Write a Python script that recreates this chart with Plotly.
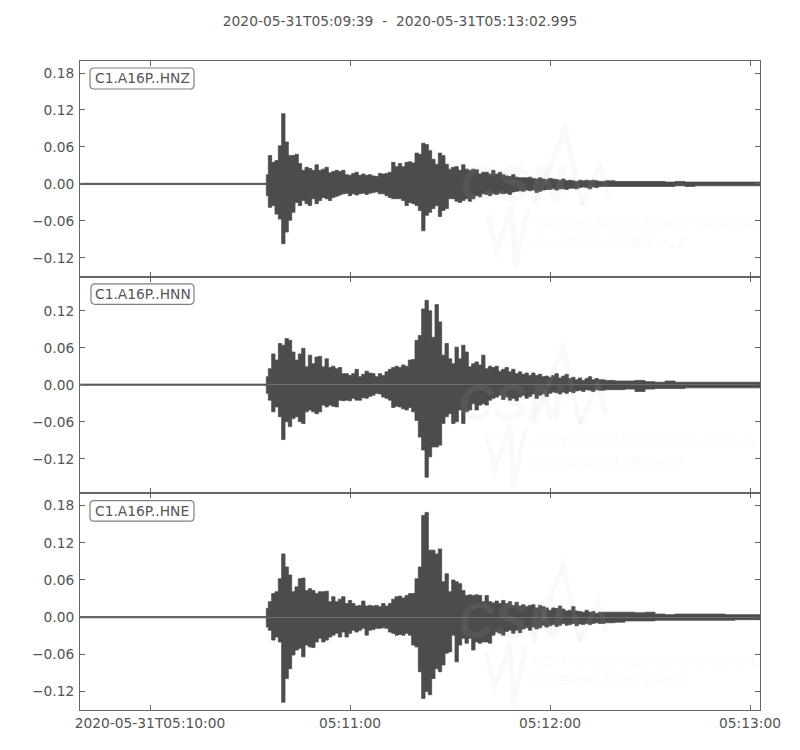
import pandas as pd
import plotly.graph_objects as go
from plotly.subplots import make_subplots

START = pd.Timestamp("2020-05-31T05:10:00")

title_text = "2020-05-31T05:09:39  -  2020-05-31T05:13:02.995"
channels = ["C1.A16P..HNZ", "C1.A16P..HNN", "C1.A16P..HNE"]

# seconds after 05:10:00
pre_times = [-21, 0, 20, 34.8]
pre_level = [1.0, 1.0, 1.0, 1.0]
fine_times = list(range(35, 136))
coarse_times = list(range(138, 184, 3))

# envelopes, in thousandths
z_up = [15,46,35,38,62,114,68,46,46,48,33,22,27,25,22,31,22,24,27,18,20,22,20,22,15,14,17,19,14,16,14,15,13,12,
        17,16,17,19,35,28,33,28,35,36,34,50,48,66,64,54,40,32,50,46,32,24,27,28,22,31,24,22,24,23,16,19,19,16,22,16,19,
        15,13,12,15,11,10,10,10,11,9,8,10,8,7,9,8,7,6,8,5,6,5,4,6,5,6,5,6,5,4,
        5,4,4,4,4,4,3,4,3,3,3,3,3,3,3,3]
z_lo = [19,38,35,49,57,97,78,59,46,30,35,27,32,35,24,32,27,22,24,27,22,20,18,16,15,19,16,18,16,15,17,15,14,13,
        16,16,19,22,24,24,24,27,35,30,32,35,43,76,51,46,40,35,53,43,40,24,24,28,30,27,24,28,24,19,21,16,17,19,16,17,15,
        16,15,17,13,12,11,12,10,11,10,14,12,10,9,9,8,10,8,8,9,7,7,8,6,5,6,8,5,6,4,
        4,4,4,4,4,4,4,3,4,3,3,3,3,3,3,3]
n_up = [13,26,50,40,67,64,75,72,53,40,50,59,29,48,34,45,46,29,42,28,30,26,28,18,18,15,18,25,13,17,
        22,19,18,13,18,15,21,25,28,30,28,32,30,40,41,72,80,123,137,120,77,130,102,48,67,42,34,61,42,64,
        53,29,34,37,32,48,26,30,28,30,22,
        25,28,21,25,18,21,17,19,15,19,15,17,13,14,12,15,18,11,14,17,10,12,8,11,7,10,13,8,10,8,
        7,6,6,7,5,4,6,4,4,4,4,4,4,4,4,4]
n_lo = [14,25,44,36,52,89,60,68,55,52,60,63,44,41,44,47,44,33,36,33,35,36,25,26,25,26,22,25,25,21,
        22,19,17,14,15,20,22,25,37,35,36,39,41,37,44,58,85,106,150,117,101,101,98,63,52,47,63,60,41,63,
        44,41,31,41,33,31,33,25,22,20,17,
        24,20,25,22,26,20,17,22,19,15,22,17,15,19,14,12,13,15,12,14,11,13,10,9,11,8,9,11,8,9,
        8,8,7,11,7,6,6,6,5,5,5,5,5,5,5,5]
e_up = [14,25,38,41,62,102,81,68,41,49,62,63,43,46,43,38,41,41,42,25,33,25,29,33,22,27,22,18,19,26,
        18,19,18,19,17,22,18,22,29,33,34,31,35,38,38,62,81,164,169,108,108,102,110,57,70,41,60,57,54,43,
        35,36,35,36,35,25,35,25,23,26,22,
        27,22,25,19,24,18,20,17,19,20,15,19,17,15,11,15,14,18,13,10,11,17,10,9,8,11,8,9,6,8,
        8,8,8,7,8,5,4,5,5,5,5,5,4,4,4,4]
e_lo = [16,21,37,32,40,137,99,83,61,53,50,64,45,48,49,40,34,40,37,32,29,26,32,24,32,26,21,24,21,18,
        29,21,20,18,18,17,18,24,26,29,28,29,26,29,45,48,88,131,120,125,99,83,88,77,58,56,29,72,45,34,
        42,34,53,40,42,40,40,42,29,24,26,
        29,23,21,26,21,25,19,17,21,16,19,17,13,16,14,12,15,13,10,13,12,10,14,11,12,10,12,10,9,10,
        9,8,6,6,6,5,5,5,5,5,5,5,5,4,4,4]

ticks_per_panel = [
    [-0.12, -0.06, 0.0, 0.06, 0.12, 0.18],
    [-0.12, -0.06, 0.0, 0.06, 0.12],
    [-0.12, -0.06, 0.0, 0.06, 0.12, 0.18],
]
x_tick_secs = [0, 60, 120, 180]
x_tick_text = ["2020-05-31T05:10:00", "05:11:00", "05:12:00", "05:13:00"]

INK = "#4c4c4c"
TEXT = "#555555"
FRAME = "#666666"
W, H = 800, 750
L, R, T, B = 80, 760, 60.5, 710
BOUNDS = [60.5, 277, 493, 710]
Y_RANGES = [(-0.1516, 0.1995), (-0.1760, 0.1743), (-0.1497, 0.2000)]
FS = 13.8


def when(sec):
    return START + pd.to_timedelta(sec, unit="s")


fig = make_subplots(rows=3, cols=1, shared_xaxes=False, vertical_spacing=0)

all_t = pre_times + fine_times + coarse_times
series = [(z_up, z_lo), (n_up, n_lo), (e_up, e_lo)]
for i, (up, lo) in enumerate(series):
    upper = [v / 1000 for v in pre_level + up]
    lower = [-v / 1000 for v in pre_level + lo]
    xs = [when(s) for s in all_t]
    for ys in (upper, lower):
        fig.add_trace(
            go.Scatter(
                x=xs, y=ys, mode="lines", fill="tozeroy", fillcolor=INK,
                line=dict(color=INK, width=0.8, shape="hvh"),
                hoverinfo="skip", showlegend=False,
            ),
            row=i + 1, col=1,
        )

    dom = [1 - (BOUNDS[i + 1] - T) / (B - T), 1 - (BOUNDS[i] - T) / (B - T)]
    fig.update_yaxes(
        row=i + 1, col=1, domain=dom, range=list(Y_RANGES[i]),
        tickmode="array", tickvals=ticks_per_panel[i],
        ticktext=[("\u2212" if v < 0 else "") + f"{abs(v):.2f}" for v in ticks_per_panel[i]],
        ticks="inside", ticklen=5, tickwidth=1, tickcolor=FRAME,
        showline=True, linecolor=FRAME, linewidth=1, mirror="ticks",
        showgrid=False, zeroline=False, ticklabelstandoff=2,
        tickfont=dict(family="DejaVu Sans", size=FS, color=TEXT),
    )
    fig.update_xaxes(
        row=i + 1, col=1, type="date",
        range=[when(-21), when(182.995)],
        tickmode="array", tickvals=[when(s) for s in x_tick_secs],
        ticktext=x_tick_text if i == 2 else ["", "", "", ""],
        ticks="inside", ticklen=5, tickwidth=1, tickcolor=FRAME,
        showline=True, linecolor=FRAME, linewidth=1, mirror="ticks",
        showgrid=False, zeroline=False,
        tickfont=dict(family="DejaVu Sans", size=FS, color=TEXT),
    )


def fx(px):
    return (px - L) / (R - L)


def fy(px, i):
    return 1 - (px - BOUNDS[i]) / (BOUNDS[i + 1] - BOUNDS[i])


def rounded_box(x0, x1, y0, y1, i, r=4):
    a = fx
    b = lambda v: fy(v, i)
    return (
        f"M {a(x0 + r)} {b(y0)} L {a(x1 - r)} {b(y0)} Q {a(x1)} {b(y0)} {a(x1)} {b(y0 + r)} "
        f"L {a(x1)} {b(y1 - r)} Q {a(x1)} {b(y1)} {a(x1 - r)} {b(y1)} "
        f"L {a(x0 + r)} {b(y1)} Q {a(x0)} {b(y1)} {a(x0)} {b(y1 - r)} "
        f"L {a(x0)} {b(y0 + r)} Q {a(x0)} {b(y0)} {a(x0 + r)} {b(y0)} Z"
    )


LABEL_BOXES = [(90, 194, 67.5, 88.5), (91, 194, 283.5, 304), (90, 194, 500.5, 521)]
WM_OFFSET = [(0, 0), (-2, 219), (-2, 437)]
WM_CSS = "rgba(190,190,190,0.09)"

for i, name in enumerate(channels):
    sx = "x" if i == 0 else f"x{i + 1}"
    sy = "y" if i == 0 else f"y{i + 1}"
    x0, x1, y0, y1 = LABEL_BOXES[i]
    dx, dy = WM_OFFSET[i]
    # faint watermark
    for txt, tx, ty, size, bold in [
        ("CENTRO SISMOLÓGICO NACIONAL", 532, 223, 13.3, False),
        ("UNIVERSIDAD DE CHILE", 528, 243, 13.3, False),
        ("CSN", 458, 184, 50, True),
    ]:
        label = f"<b><i>{txt}</i></b>" if bold else f"<i>{txt}</i>"
        fig.add_annotation(
            xref=f"{sx} domain", yref=f"{sy} domain",
            x=fx(tx + dx), y=fy(ty + dy, i), xanchor="left", yanchor="middle",
            text=label, showarrow=False,
            font=dict(family="Liberation Sans", size=size, color=WM_CSS),
        )
    for path_pts in [
        [(535, 205), (565, 128), (582, 205)],
        [(582, 205), (600, 165), (608, 195)],
        [(488, 215), (497, 250), (512, 205), (515, 268), (528, 208)],
    ]:
        d = "M " + " L ".join(f"{fx(px + dx)} {fy(py + dy, i)}" for px, py in path_pts)
        fig.add_shape(
            type="path", xref=f"{sx} domain", yref=f"{sy} domain", path=d,
            line=dict(color=WM_CSS, width=5), layer="above",
        )
    fig.add_shape(
        type="path", xref=f"{sx} domain", yref=f"{sy} domain",
        path=rounded_box(x0, x1, y0, y1, i),
        line=dict(color="#7f7f7f", width=1.2), fillcolor="white",
    )
    fig.add_annotation(
        xref=f"{sx} domain", yref=f"{sy} domain",
        x=fx((x0 + x1) / 2), y=fy((y0 + y1) / 2, i), xanchor="center", yanchor="middle",
        text=name, showarrow=False,
        font=dict(family="DejaVu Sans", size=FS, color=TEXT),
    )

fig.update_layout(
    width=W, height=H, autosize=False,
    margin=dict(l=L, r=W - R, t=T, b=H - B),
    paper_bgcolor="white", plot_bgcolor="white",
    title=dict(
        text=title_text, x=0.5, xanchor="center", y=1 - 21 / H, yanchor="middle",
        font=dict(family="DejaVu Sans", size=FS, color=TEXT),
    ),
    showlegend=False,
)

fig.write_html(
    "out.html",
    config=dict(displayModeBar=False),
    post_script="document.body.style.margin='0';",
)
